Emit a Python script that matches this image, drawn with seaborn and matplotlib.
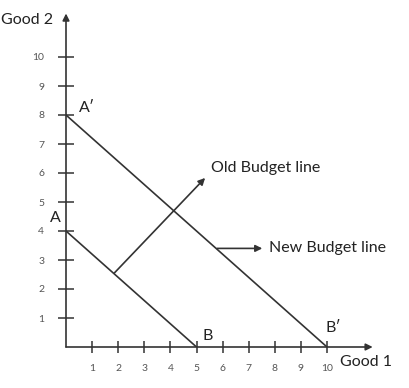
import matplotlib
matplotlib.use("Agg")
import matplotlib.pyplot as plt
import seaborn as sns
import pandas as pd

# ---- data ----
old_good1 = [0, 5]
old_good2 = [4, 0]
new_good1 = [0, 10]
new_good2 = [8, 0]
x_ticks = [1, 2, 3, 4, 5, 6, 7, 8, 9, 10]
y_ticks = [1, 2, 3, 4, 5, 6, 7, 8, 9, 10]
point_labels = ["A", "B", "A\u2032", "B\u2032"]
point_pos_x = [-0.42, 5.44, 0.82, 10.23]
point_pos_y = [4.45, 0.38, 8.24, 0.66]
old_arrow_from = (1.85, 2.55)
old_arrow_to = (5.33, 5.83)
new_arrow_from = (5.79, 3.40)
new_arrow_to = (7.52, 3.40)
old_text = "Old Budget line"
new_text = "New Budget line"
x_title = "Good 1"
y_title = "Good 2"

sns.set_theme(style="white")
plt.rcParams["font.family"] = ["Lato", "DejaVu Sans"]

W, H = 409, 388
fig = plt.figure(figsize=(W / 100, H / 100), dpi=100)
ux, uy = 26.1, 29.0
x0, y0 = 66, 347
xmax, ymax = 11.8, 11.6
ax = fig.add_axes([x0 / W, (H - y0) / H, xmax * ux / W, ymax * uy / H])

df = pd.DataFrame({
    "good1": old_good1 + new_good1,
    "good2": old_good2 + new_good2,
    "line": ["old"] * len(old_good1) + ["new"] * len(new_good1),
})
lc = "#333333"
sns.lineplot(data=df, x="good1", y="good2", hue="line", units="line",
             estimator=None, palette={"old": lc, "new": lc}, linewidth=1.2,
             legend=False, ax=ax, sort=False)

ax.set_xlim(0, xmax)
ax.set_ylim(0, ymax)
for s in ax.spines.values():
    s.set_visible(False)
ax.set_xlabel("")
ax.set_ylabel("")
ax.set_xticks(x_ticks)
ax.set_yticks(y_ticks)
ax.set_xticklabels([str(t) for t in x_ticks])
ax.set_yticklabels([str(t) for t in y_ticks])
ax.tick_params(axis="x", direction="inout", length=8.6, width=1.1, pad=8.0,
               labelsize=7.5, labelcolor="#555555", color=lc, bottom=True)
ax.tick_params(axis="y", direction="inout", length=11.5, width=1.1, pad=10.0,
               labelsize=7.5, labelcolor="#555555", color=lc, left=True)

arrow_kw = dict(arrowstyle="-|>", lw=1.2, color=lc, mutation_scale=10,
                shrinkA=0, shrinkB=0)
# axes with arrowheads
ax.annotate("", xy=(11.75, 0), xytext=(0, 0), arrowprops=arrow_kw,
            annotation_clip=False)
ax.annotate("", xy=(0, 11.5), xytext=(0, 0), arrowprops=arrow_kw,
            annotation_clip=False)

# callout arrows
ax.annotate("", xy=old_arrow_to, xytext=old_arrow_from, arrowprops=arrow_kw)
ax.annotate("", xy=new_arrow_to, xytext=new_arrow_from, arrowprops=arrow_kw)
fs = 11.5
ax.text(5.56, 6.17, old_text, fontsize=fs, color="#222222", va="center", ha="left")
ax.text(7.78, 3.42, new_text, fontsize=fs, color="#222222", va="center", ha="left")

for lab, px, py in zip(point_labels, point_pos_x, point_pos_y):
    ax.text(px, py, lab, fontsize=fs, color="#222222", ha="center", va="center")

ax.text(10.5, -0.52, x_title, fontsize=fs, color="#222222", ha="left", va="center",
        clip_on=False)
ax.text(-0.5, 11.28, y_title, fontsize=fs, color="#222222", ha="right", va="center",
        clip_on=False)

fig.savefig("out.png", dpi=100)
